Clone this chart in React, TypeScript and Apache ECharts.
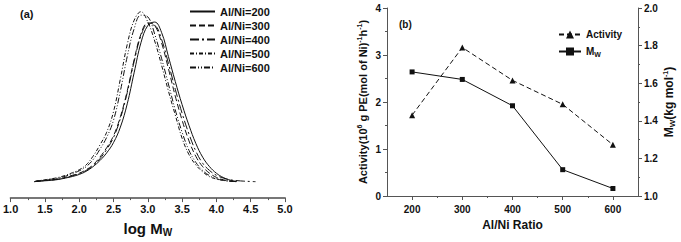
import React, { useEffect, useRef } from "react";
import * as echarts from "echarts";

// ---- Panel (a): GPC curves ----
const LOGM = [1.35, 1.4, 1.5, 1.6, 1.7, 1.8, 1.9, 2.0, 2.1, 2.2, 2.3, 2.4, 2.5, 2.6, 2.7, 2.8, 2.9, 3.0, 3.1, 3.2, 3.3, 3.4, 3.5, 3.6, 3.7, 3.8, 3.9, 4.0, 4.1, 4.2, 4.3];
const LOGM_400 = [...LOGM, 4.4, 4.5, 4.57];
const I_200 = [0.003, 0.005, 0.008, 0.011, 0.016, 0.024, 0.033, 0.045, 0.063, 0.09, 0.125, 0.17, 0.23, 0.32, 0.455, 0.635, 0.81, 0.91, 0.93, 0.87, 0.73, 0.585, 0.45, 0.33, 0.225, 0.145, 0.09, 0.052, 0.027, 0.012, 0.004];
const I_300 = [0.003, 0.006, 0.01, 0.014, 0.019, 0.028, 0.04, 0.052, 0.072, 0.1, 0.145, 0.2, 0.27, 0.38, 0.53, 0.71, 0.86, 0.925, 0.91, 0.81, 0.66, 0.5, 0.36, 0.24, 0.15, 0.09, 0.052, 0.028, 0.014, 0.007, 0.003];
const I_400 = [0.003, 0.006, 0.009, 0.013, 0.018, 0.026, 0.037, 0.05, 0.068, 0.095, 0.135, 0.19, 0.26, 0.37, 0.52, 0.7, 0.85, 0.915, 0.91, 0.83, 0.69, 0.54, 0.4, 0.28, 0.18, 0.11, 0.068, 0.04, 0.024, 0.014, 0.009, 0.006, 0.004, 0.003];
const I_500 = [0.004, 0.008, 0.014, 0.02, 0.028, 0.04, 0.055, 0.072, 0.1, 0.15, 0.215, 0.29, 0.41, 0.6, 0.8, 0.94, 0.99, 0.93, 0.82, 0.68, 0.53, 0.39, 0.255, 0.16, 0.1, 0.06, 0.032, 0.018, 0.01, 0.005, 0.003];
const I_600 = [0.004, 0.007, 0.012, 0.018, 0.025, 0.035, 0.05, 0.066, 0.09, 0.13, 0.19, 0.26, 0.36, 0.53, 0.73, 0.89, 0.97, 0.96, 0.86, 0.72, 0.57, 0.42, 0.29, 0.185, 0.115, 0.068, 0.038, 0.02, 0.011, 0.006, 0.003];
const CURVE_NAMES = ["Al/Ni=200", "Al/Ni=300", "Al/Ni=400", "Al/Ni=500", "Al/Ni=600"];
const LOGM_MINOR = [1.25, 1.75, 2.25, 2.75, 3.25, 3.75, 4.25, 4.75];

// ---- Panel (b): activity & Mw ----
const RATIOS = [200, 300, 400, 500, 600];
const RATIO_MINOR = [250, 350, 450, 550];
const ACTIVITY = [1.72, 3.16, 2.46, 1.95, 1.09];
const MW = [1.66, 1.62, 1.48, 1.14, 1.04];

const FONT = "'Liberation Sans', Arial, sans-serif";
const AXIS_COLOR = "#555";
const INK = "#111";

export default function App() {
  const ref = useRef<HTMLDivElement>(null);
  useEffect(() => {
    if (!ref.current) return;
    const chart = echarts.init(ref.current, undefined, { renderer: "svg" });
    const zip = (xs: number[], ys: number[]) => ys.map((y, i) => [xs[i], y]);
    const dashes: any[] = ["solid", [6, 3], [9, 3, 2, 3], [4, 2, 1, 2], [6, 2, 1, 2, 1, 2]];
    const curves = [I_200, I_300, I_400, I_500, I_600];
    const axisBase = {
      axisLine: { show: true, onZero: false, lineStyle: { color: AXIS_COLOR, width: 1 } },
      axisTick: { show: true, inside: false, length: 4, lineStyle: { color: AXIS_COLOR } },
      minorTick: { show: true, splitNumber: 2, length: 2, lineStyle: { color: AXIS_COLOR } },
      splitLine: { show: false },
      minorSplitLine: { show: false },
    };
    const txt = { fontFamily: FONT, fontWeight: "bold", color: INK };
    const option: any = {
      animation: false,
      backgroundColor: "#fff",
      grid: [
        { left: 10, width: 275, top: 10, height: 189 },
        { left: 387, width: 251, top: 8, height: 188 },
      ],
      xAxis: [
        {
          gridIndex: 0, type: "value", min: 1.0, max: 5.0, interval: 0.5, position: "bottom", offset: 0,
          axisLine: { show: true, onZero: false, lineStyle: { color: "#777", width: 2 } },
          axisTick: { show: true, length: 4, lineStyle: { color: "#555", width: 1 } },
          splitLine: { show: false },
          axisLabel: { ...txt, fontSize: 11, margin: 5, formatter: (v: number) => v.toFixed(1) },
          name: "log M{sub|W}", nameLocation: "middle", nameGap: 17,
          nameTextStyle: { ...txt, fontSize: 15, lineHeight: 18, rich: { sub: { ...txt, fontSize: 10, lineHeight: 10, verticalAlign: "bottom" } } },
        },
        {
          gridIndex: 1, type: "value", min: 150, max: 650, position: "bottom", offset: 0,
          ...axisBase,
          minorTick: { show: false },
          axisTick: { show: true, length: 4, lineStyle: { color: AXIS_COLOR }, customValues: RATIOS },
          axisLabel: { ...txt, fontSize: 10, margin: 8, customValues: RATIOS },
          name: "Al/Ni Ratio", nameLocation: "middle", nameGap: 20,
          nameTextStyle: { ...txt, fontSize: 12 },
        },
        {
          gridIndex: 1, type: "value", min: 150, max: 650, position: "bottom", offset: 0,
          axisLine: { show: false, onZero: false },
          splitLine: { show: false },
          axisLabel: { show: false, customValues: RATIO_MINOR },
          axisTick: { show: true, length: 2, lineStyle: { color: AXIS_COLOR }, customValues: RATIO_MINOR },
        },
        {
          gridIndex: 0, type: "value", min: 1.0, max: 5.0, position: "bottom", offset: 0,
          axisLine: { show: false, onZero: false },
          splitLine: { show: false },
          axisLabel: { show: false, customValues: LOGM_MINOR },
          axisTick: { show: true, length: 2, lineStyle: { color: "#555" }, customValues: LOGM_MINOR },
        },
      ],
      yAxis: [
        {
          gridIndex: 0, type: "value", min: -0.0925, max: 1.0,
          axisLine: { show: false }, axisTick: { show: false }, axisLabel: { show: false }, splitLine: { show: false },
        },
        {
          gridIndex: 1, type: "value", min: 0, max: 4, interval: 1, position: "left",
          ...axisBase,
          axisLabel: { ...txt, fontSize: 10, margin: 6 },
          name: "Activity(10{sup|6} g PE(mol of Ni){sup|-1}h{sup|-1})",
          nameLocation: "middle", nameRotate: 90, nameGap: 17,
          nameTextStyle: { ...txt, fontSize: 11, lineHeight: 14, rich: { sup: { ...txt, fontSize: 7, lineHeight: 7, verticalAlign: "top" } } },
        },
        {
          gridIndex: 1, type: "value", min: 1.0, max: 2.0, interval: 0.2, position: "right",
          ...axisBase,
          axisLabel: { ...txt, fontSize: 10, margin: 6, formatter: (v: number) => v.toFixed(1) },
          name: "M{sub|W}(kg mol{sup|-1})",
          nameLocation: "middle", nameRotate: 90, nameGap: 21,
          nameTextStyle: {
            ...txt, fontSize: 12, lineHeight: 15,
            rich: {
              sup: { ...txt, fontSize: 7, lineHeight: 7, verticalAlign: "top" },
              sub: { ...txt, fontSize: 8, lineHeight: 8, verticalAlign: "bottom" },
            },
          },
        },
      ],
      legend: [
        {
          data: CURVE_NAMES, orient: "vertical", left: 189, top: 6, padding: 0,
          itemWidth: 25, itemHeight: 10, itemGap: 3,
          itemStyle: { opacity: 0 },
          textStyle: { ...txt, fontSize: 11 },
        },
        {
          data: ["Activity", "Mw"], orient: "vertical", left: 558, top: 28, padding: 0,
          itemWidth: 22, itemHeight: 10, itemGap: 4,
          formatter: (n: string) => (n === "Mw" ? "M{sub|W}" : n),
          textStyle: { ...txt, fontSize: 10, lineHeight: 13, rich: { sub: { ...txt, fontSize: 7, lineHeight: 7, verticalAlign: "bottom" } } },
        },
      ],
      graphic: [
        { type: "text", left: 20, top: 8, style: { text: "(a)", font: `bold 11px ${FONT}`, fill: INK } },
        { type: "text", left: 399, top: 19, style: { text: "(b)", font: `bold 10px ${FONT}`, fill: INK } },
      ],
      series: [
        ...curves.map((c, i) => ({
          name: CURVE_NAMES[i], type: "line", xAxisIndex: 0, yAxisIndex: 0,
          data: zip(i === 2 ? LOGM_400 : LOGM, c),
          smooth: 0.4, symbol: "none",
          lineStyle: { color: INK, width: 1, type: dashes[i] },
          itemStyle: { color: INK },
        })),
        {
          name: "Activity", type: "line", xAxisIndex: 1, yAxisIndex: 1,
          data: zip(RATIOS, ACTIVITY), symbol: "triangle", symbolSize: 6,
          lineStyle: { color: INK, width: 1, type: [5, 3] }, itemStyle: { color: INK },
        },
        {
          name: "Mw", type: "line", xAxisIndex: 1, yAxisIndex: 2,
          data: zip(RATIOS, MW), symbol: "rect", symbolSize: 5,
          lineStyle: { color: INK, width: 1 }, itemStyle: { color: INK },
        },
      ],
    };
    chart.setOption(option);
    return () => chart.dispose();
  }, []);
  return <div ref={ref} style={{ position: "absolute", left: 0, top: 0, width: 681, height: 242 }} />;
}
